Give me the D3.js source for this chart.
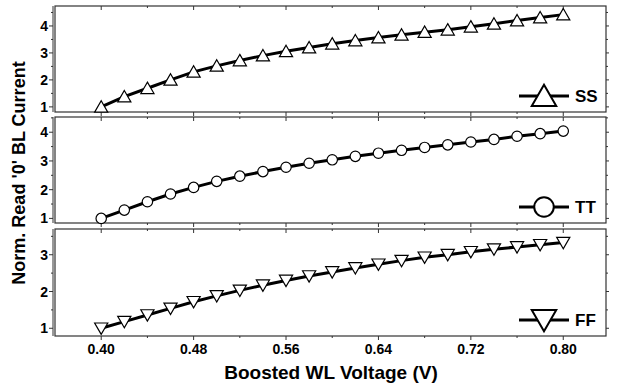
<!DOCTYPE html>
<html>
<head>
<meta charset="utf-8">
<script src="https://cdn.jsdelivr.net/npm/d3@7"></script>
<style>
  body { margin: 0; background: #fff; }
  svg { display: block; font-family: "Liberation Sans", Arial, sans-serif; font-weight: bold; }
</style>
</head>
<body>
<svg id="chart" width="619" height="385"></svg>
<script>
const voltage = [0.40, 0.42, 0.44, 0.46, 0.48, 0.50, 0.52, 0.54, 0.56, 0.58, 0.60,
  0.62, 0.64, 0.66, 0.68, 0.70, 0.72, 0.74, 0.76, 0.78, 0.80];
const ssValues = [1.0, 1.38, 1.69, 2.0, 2.3, 2.52, 2.72, 2.9, 3.06, 3.2, 3.34,
  3.46, 3.57, 3.67, 3.77, 3.86, 3.97, 4.08, 4.2, 4.31, 4.42];
const ttValues = [1.0, 1.29, 1.58, 1.85, 2.08, 2.29, 2.47, 2.63, 2.78, 2.92, 3.04,
  3.16, 3.27, 3.37, 3.47, 3.56, 3.66, 3.75, 3.86, 3.95, 4.04];
const ffValues = [1.0, 1.18, 1.36, 1.54, 1.72, 1.88, 2.03, 2.17, 2.3, 2.42, 2.53,
  2.64, 2.74, 2.84, 2.93, 3.0, 3.08, 3.15, 3.21, 3.27, 3.33];
const xTicks = [0.40, 0.48, 0.56, 0.64, 0.72, 0.80];
const xMinor = [0.44, 0.52, 0.60, 0.68, 0.76];

const panels = [
  { name: "SS", values: ssValues, symbol: d3.symbolTriangle, rot: 0, top: 6, bottom: 112, domain: [0.81, 4.74], ticks: [1, 2, 3, 4] },
  { name: "TT", values: ttValues, symbol: d3.symbolCircle, rot: 0, top: 117, bottom: 223, domain: [0.84, 4.53], ticks: [1, 2, 3, 4] },
  { name: "FF", values: ffValues, symbol: d3.symbolTriangle, rot: 180, top: 229, bottom: 336, domain: [0.79, 3.70], ticks: [1, 2, 3] }
];

const svg = d3.select("#chart");
const left = 55, right = 606;
const x = d3.scaleLinear().domain([0.36, 0.837]).range([left, right]);
const axisColor = "#333";

panels.forEach((p, i) => {
  const y = d3.scaleLinear().domain(p.domain).range([p.bottom, p.top]);
  const g = svg.append("g");
  const minorY = d3.range(1.5, p.domain[1], 1);

  // frame
  g.append("rect")
    .attr("x", left).attr("y", p.top)
    .attr("width", right - left).attr("height", p.bottom - p.top)
    .attr("fill", "none").attr("stroke", axisColor).attr("stroke-width", 1.2);

  // left axis, offset a little from the frame
  g.append("line")
    .attr("x1", left - 2).attr("x2", left - 2)
    .attr("y1", p.top).attr("y2", p.bottom)
    .attr("stroke", axisColor).attr("stroke-width", 1);
  g.selectAll(".ytick").data(p.ticks).join("line")
    .attr("x1", left - 6).attr("x2", left - 2)
    .attr("y1", d => y(d)).attr("y2", d => y(d))
    .attr("stroke", axisColor);
  g.selectAll(".yminor").data(minorY).join("line")
    .attr("x1", left - 4).attr("x2", left - 2)
    .attr("y1", d => y(d)).attr("y2", d => y(d))
    .attr("stroke", axisColor);
  g.selectAll(".ylab").data(p.ticks).join("text")
    .attr("x", left - 7).attr("y", d => y(d) + 5)
    .attr("text-anchor", "end").attr("font-size", 14)
    .text(d => d);

  // right axis ticks outward
  g.selectAll(".rtick").data(p.ticks).join("line")
    .attr("x1", right).attr("x2", right + 3)
    .attr("y1", d => y(d)).attr("y2", d => y(d))
    .attr("stroke", axisColor);
  g.selectAll(".rminor").data(minorY).join("line")
    .attr("x1", right).attr("x2", right + 2)
    .attr("y1", d => y(d)).attr("y2", d => y(d))
    .attr("stroke", axisColor);

  // x ticks: inward at top, outward at bottom
  g.selectAll(".ttick").data(xTicks).join("line")
    .attr("x1", d => x(d)).attr("x2", d => x(d))
    .attr("y1", p.top).attr("y2", p.top + 4)
    .attr("stroke", axisColor);
  g.selectAll(".tminor").data(xMinor).join("line")
    .attr("x1", d => x(d)).attr("x2", d => x(d))
    .attr("y1", p.top).attr("y2", p.top + 2)
    .attr("stroke", axisColor);
  g.selectAll(".btick").data(xTicks).join("line")
    .attr("x1", d => x(d)).attr("x2", d => x(d))
    .attr("y1", p.bottom).attr("y2", p.bottom + 4)
    .attr("stroke", axisColor);
  g.selectAll(".bminor").data(xMinor).join("line")
    .attr("x1", d => x(d)).attr("x2", d => x(d))
    .attr("y1", p.bottom).attr("y2", p.bottom + 2)
    .attr("stroke", axisColor);

  // data line
  const pts = voltage.map((v, k) => [v, p.values[k]]);
  g.append("path")
    .datum(pts)
    .attr("fill", "none").attr("stroke", "#000").attr("stroke-width", 3)
    .attr("d", d3.line().x(d => x(d[0])).y(d => y(d[1])));

  const small = p.symbol === d3.symbolCircle ? 85 : 75;
  const yOff = p.symbol === d3.symbolCircle ? 0 : (p.rot ? -1.5 : 1.5);
  g.selectAll(".pt").data(pts).join("path")
    .attr("transform", d => `translate(${x(d[0])},${y(d[1]) + yOff}) rotate(${p.rot})`)
    .attr("d", d3.symbol().type(p.symbol).size(small))
    .attr("fill", "#fff").attr("stroke", "#000").attr("stroke-width", 1.2);

  // legend
  const ly = p.bottom - 16;
  g.append("line")
    .attr("x1", 519).attr("x2", 569).attr("y1", ly).attr("y2", ly)
    .attr("stroke", "#000").attr("stroke-width", 3);
  const big = p.symbol === d3.symbolCircle ? 300 : 260;
  g.append("path")
    .attr("transform", `translate(544,${ly + (p.symbol === d3.symbolCircle ? 0 : (p.rot ? -3 : 3))}) rotate(${p.rot})`)
    .attr("d", d3.symbol().type(p.symbol).size(big))
    .attr("fill", "#fff").attr("stroke", "#000").attr("stroke-width", 2);
  g.append("text")
    .attr("x", 575).attr("y", ly + 6)
    .attr("font-size", 17)
    .text(p.name);

  if (i === panels.length - 1) {
    g.selectAll(".xlab").data(xTicks).join("text")
      .attr("x", d => x(d)).attr("y", p.bottom + 18)
      .attr("text-anchor", "middle").attr("font-size", 14)
      .text(d => d3.format(".2f")(d));
  }
});

svg.append("text")
  .attr("x", 331).attr("y", 379)
  .attr("text-anchor", "middle").attr("font-size", 19)
  .text("Boosted WL Voltage (V)");

svg.append("text")
  .attr("transform", "translate(25,173) rotate(-90)")
  .attr("text-anchor", "middle").attr("font-size", 18)
  .text("Norm. Read '0' BL Current");
</script>
</body>
</html>
